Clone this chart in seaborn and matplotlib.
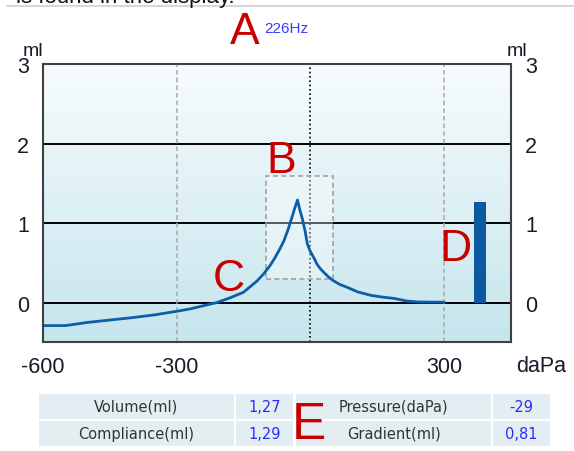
import numpy as np
import pandas as pd
import matplotlib
matplotlib.use('Agg')
import matplotlib.pyplot as plt
from matplotlib.patches import Rectangle
from matplotlib.lines import Line2D
from matplotlib.colors import LinearSegmentedColormap
import seaborn as sns

# tympanogram curve (daPa -> ml)
pressure = [-600, -550, -500, -450, -400, -350, -300, -270, -240, -210, -180,
            -150, -135, -120, -105, -90, -80, -70, -60, -50, -41, -35, -29,
            -24, -18, -12, -7, -3, 0, 8, 15, 23, 38, 50, 65, 83, 106, 136, 160,
            190, 215, 240, 270, 300]
volume = [-0.29, -0.29, -0.25, -0.22, -0.19, -0.155, -0.11, -0.08, -0.04, 0.0,
          0.06, 0.13, 0.2, 0.27, 0.36, 0.47, 0.56, 0.66, 0.77, 0.92, 1.08,
          1.19, 1.29, 1.17, 1.05, 0.9, 0.74, 0.68, 0.64, 0.56, 0.48, 0.42, 0.335,
          0.28, 0.23, 0.19, 0.134, 0.09, 0.07, 0.05, 0.02, 0.008, 0.005, 0.005]

# ear canal volume bar
bar_pos = [380]
bar_val = [1.27]

x_ticks = [-600, -300, 300]
x_labels = ['-600', '-300', '300']
y_ticks = [0, 1, 2, 3]

table_labels_left = ['Volume(ml)', 'Compliance(ml)']
table_values_left = ['1,27', '1,29']
table_labels_right = ['Pressure(daPa)', 'Gradient(ml)']
table_values_right = ['-29', '0,81']

df = pd.DataFrame({'pressure': pressure, 'volume': volume})

sns.set_style('white')
plt.rcParams['font.family'] = ['Liberation Sans', 'DejaVu Sans']
plt.rcParams['axes.unicode_minus'] = False

W, H = 574, 452
fig = plt.figure(figsize=(W / 100, H / 100), dpi=100)


def px(x, y):
    return x / W, 1 - y / H


ax = fig.add_axes([43 / W, 1 - 343.3 / H, (511 - 43) / W, (343.3 - 65) / H])
ax.set_xlim(-600, 450)
ax.set_ylim(-0.5, 3)

# gradient background
grad = np.linspace(0, 1, 256).reshape(-1, 1)
cmap = LinearSegmentedColormap.from_list('bg', ['#c6e5ed', '#f7fcfd'])
ax.imshow(grad, extent=[-600, 450, -0.5, 3], aspect='auto', cmap=cmap,
          origin='lower', zorder=0)

for yv in [0, 1, 2]:
    ax.axhline(yv, color='black', lw=1.4, zorder=2)
for xv in [-300, 300]:
    ax.axvline(xv, color='#a8a8a8', lw=1.1, ls=(0, (3, 2)), zorder=2)
ax.axvline(0, color='black', lw=1.2, ls=(0, (1, 1.6)), zorder=2)

# box B
ax.add_patch(Rectangle((-100, 0.30), 150, 1.29, facecolor='white', alpha=0.35,
                       edgecolor='none', zorder=3))
ax.add_patch(Rectangle((-100, 0.30), 150, 1.29, fill=False, edgecolor='#a0a0a0',
                       lw=1.2, ls=(0, (3, 2)), zorder=3))

sns.lineplot(data=df, x='pressure', y='volume', ax=ax, color='#0d5ea8',
             lw=2.0, sort=False, estimator=None, zorder=5)
ax.bar(bar_pos, bar_val, width=28, color='#0b5aa0', linewidth=0, zorder=4)

ax.set_xticks(x_ticks)
ax.set_xticklabels(x_labels)
ax.set_yticks(y_ticks)
ax.tick_params(axis='both', length=0, labelsize=15.5, colors='#1a1a2a')
ax.tick_params(axis='x', pad=10)
ax.tick_params(axis='y', pad=10, labelleft=True, labelright=True)
ax.set_xlabel('')
ax.set_ylabel('')
for s in ax.spines.values():
    s.set_color('#404040')
    s.set_linewidth(1.5)
    s.set_zorder(6)

fig.text(*px(541, 366), 'daPa', ha='center', va='center', fontsize=15.5, color='#1a1a2a')
fig.text(*px(33, 52), 'ml', ha='center', va='center', fontsize=14, color='#1a1a2a')
fig.text(*px(517, 52), 'ml', ha='center', va='center', fontsize=14, color='#1a1a2a')

# cut-off text and separator at the top
fig.text(*px(16, 3), 'is found in the display.', ha='left', va='baseline',
         fontsize=16, color='#111111')
fig.add_artist(Line2D([6.7 / W, 1], [1 - 7.3 / H] * 2, color='#d8d8d8', lw=1.5))

# red markers
red = '#c80000'
for letter, x, y, fs in [('A', 245, 44.3, 32), ('B', 280.8, 173.3, 32),
                         ('C', 228.5, 291.5, 32), ('D', 455, 261, 32)]:
    fig.text(*px(x, y), letter, ha='center', va='baseline', fontsize=fs,
             color=red, zorder=10)
fig.text(*px(264, 33.3), '226Hz', ha='left', va='baseline', fontsize=11,
         color='#3a3aff')

# result table
cell_color = '#e2eef1'
rows = [(394.5, 420), (421.5, 447)]
cols = [(38.6, 234), (236, 293), (296, 491), (492.6, 549.6)]
for r0, r1 in rows:
    for c0, c1 in cols:
        x0, y0 = px(c0, r1)
        fig.add_artist(Rectangle((x0, y0), (c1 - c0) / W, (r1 - r0) / H,
                                 transform=fig.transFigure, facecolor=cell_color,
                                 edgecolor='none', zorder=1))
for i, (r0, r1) in enumerate(rows):
    yc = (r0 + r1) / 2
    texts = [table_labels_left[i], table_values_left[i],
             table_labels_right[i], table_values_right[i]]
    colors = ['#333333', '#2b2bff', '#333333', '#2b2bff']
    for (c0, c1), t, c in zip(cols, texts, colors):
        fig.text(*px((c0 + c1) / 2, yc), t, ha='center', va='center',
                 fontsize=10.5, color=c, family=['DejaVu Sans'], zorder=5)

fig.text(*px(309.3, 438.8), 'E', ha='center', va='baseline', fontsize=37,
         color=red, zorder=10)

fig.savefig('out.png', dpi=100)
